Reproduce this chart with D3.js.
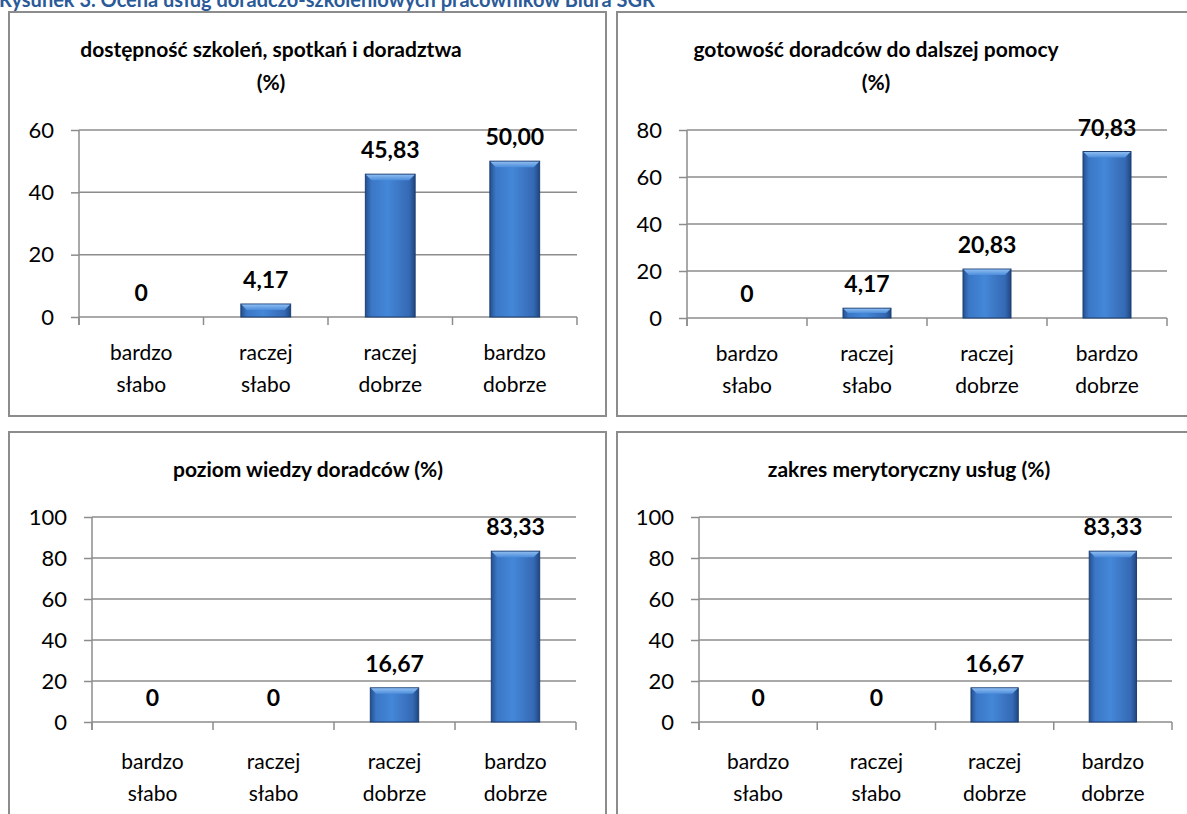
<!DOCTYPE html>
<html>
<head>
<meta charset="utf-8">
<script src="https://cdn.jsdelivr.net/npm/d3@7"></script>
<style>
  body { margin: 0; background: #fff; }
  svg { display: block; font-family: Lato, "Open Sans", sans-serif; }
</style>
</head>
<body>
<div class="chart"></div>
<script>
var svgWidth = 1187;
var svgHeight = 814;

// data
var figureTitle = "Rysunek 3. Ocena usług doradczo-szkoleniowych pracowników Biura SGR";
var categories = ["bardzo słabo", "raczej słabo", "raczej dobrze", "bardzo dobrze"];

var titlesAccess = ["dostępność szkoleń, spotkań i doradztwa", "(%)"];
var valuesAccess = [0, 4.17, 45.83, 50.00];
var ticksAccess = [0, 20, 40, 60];

var titlesReady = ["gotowość doradców do dalszej pomocy", "(%)"];
var valuesReady = [0, 4.17, 20.83, 70.83];
var ticksReady = [0, 20, 40, 60, 80];

var titlesKnowledge = ["poziom wiedzy doradców (%)"];
var valuesKnowledge = [0, 0, 16.67, 83.33];
var ticksKnowledge = [0, 20, 40, 60, 80, 100];

var titlesScope = ["zakres merytoryczny usług (%)"];
var valuesScope = [0, 0, 16.67, 83.33];
var ticksScope = [0, 20, 40, 60, 80, 100];

// panel layout (pixels)
var panels = [
  { titles: titlesAccess, values: valuesAccess, ticks: ticksAccess,
    box: [9, 12, 597, 404], plot: [79, 130, 577, 317], titleX: 271, titleY: 57, labelY: 43 },
  { titles: titlesReady, values: valuesReady, ticks: ticksReady,
    box: [617, 12, 600, 404], plot: [687, 130, 1167, 318], titleX: 876, titleY: 57, labelY: 43 },
  { titles: titlesKnowledge, values: valuesKnowledge, ticks: ticksKnowledge,
    box: [9, 432, 597, 420], plot: [92, 517, 576, 722], titleX: 308, titleY: 477, labelY: 47 },
  { titles: titlesScope, values: valuesScope, ticks: ticksScope,
    box: [617, 432, 600, 420], plot: [699, 517, 1172, 722], titleX: 909, titleY: 477, labelY: 47 }
];

var svg = d3.select(".chart")
  .append("svg")
  .attr("width", svgWidth)
  .attr("height", svgHeight);

// bar shading
var defs = svg.append("defs");
var grad = defs.append("linearGradient").attr("id", "barBody")
  .attr("x1", "0%").attr("x2", "100%").attr("y1", "0%").attr("y2", "0%");
grad.append("stop").attr("offset", "0%").attr("stop-color", "#24508f");
grad.append("stop").attr("offset", "12%").attr("stop-color", "#3b77c6");
grad.append("stop").attr("offset", "45%").attr("stop-color", "#4487d8");
grad.append("stop").attr("offset", "88%").attr("stop-color", "#3569b4");
grad.append("stop").attr("offset", "100%").attr("stop-color", "#1f4680");

var gradTop = defs.append("linearGradient").attr("id", "barTop")
  .attr("x1", "0%").attr("x2", "0%").attr("y1", "0%").attr("y2", "100%");
gradTop.append("stop").attr("offset", "0%").attr("stop-color", "#8dbcf0");
gradTop.append("stop").attr("offset", "100%").attr("stop-color", "#4c8ddb");

// figure caption, cut off by the top edge as in the source
svg.append("text")
  .attr("x", -1)
  .attr("y", 7)
  .attr("fill", "#2b5a98")
  .style("font-size", "20px")
  .style("font-weight", "bold")
  .text(figureTitle);

panels.forEach(function(p) {
  var g = svg.append("g");

  g.append("rect")
    .attr("x", p.box[0])
    .attr("y", p.box[1])
    .attr("width", p.box[2])
    .attr("height", p.box[3])
    .attr("fill", "#fff")
    .attr("stroke", "#8c8c8c")
    .attr("stroke-width", 2);

  // title
  p.titles.forEach(function(t, i) {
    g.append("text")
      .attr("x", p.titleX)
      .attr("y", p.titleY + i * 33)
      .attr("text-anchor", "middle")
      .style("font-size", "21px")
      .style("font-weight", "bold")
      .text(t);
  });

  var left = p.plot[0], top = p.plot[1], right = p.plot[2], bottom = p.plot[3];

  var x = d3.scaleBand()
    .domain(categories)
    .range([left, right])
    .paddingInner(0.6)
    .paddingOuter(0.3);

  var y = d3.scaleLinear()
    .domain([0, d3.max(p.ticks)])
    .range([bottom, top]);

  // gridlines
  g.append("g")
    .selectAll("line")
    .data(p.ticks)
    .enter().append("line")
      .attr("x1", left)
      .attr("x2", right)
      .attr("y1", function(d) { return y(d); })
      .attr("y2", function(d) { return y(d); })
      .attr("stroke", "#8c8c8c")
      .attr("stroke-width", 1.5);

  // y axis
  var leftAxis = d3.axisLeft(y)
    .tickValues(p.ticks)
    .tickSize(8)
    .tickPadding(17)
    .tickFormat(d3.format("d"));

  var yAxis = g.append("g")
    .attr("transform", "translate(" + left + ",0)")
    .call(leftAxis);
  yAxis.select(".domain").remove();
  yAxis.selectAll(".tick line").attr("stroke", "#8c8c8c").attr("stroke-width", 1.5);
  yAxis.selectAll(".tick text")
    .attr("fill", "#000")
    .style("font-size", "22px")
    .style("font-family", "Lato, sans-serif");

  g.append("line")
    .attr("x1", left).attr("x2", left)
    .attr("y1", top).attr("y2", bottom + 8)
    .attr("stroke", "#8c8c8c")
    .attr("stroke-width", 1.5);

  // category boundary ticks
  var step = x.step();
  var bounds = d3.range(categories.length + 1).map(function(i) { return left + i * step; });
  g.append("g")
    .selectAll("line")
    .data(bounds)
    .enter().append("line")
      .attr("x1", function(d) { return d; })
      .attr("x2", function(d) { return d; })
      .attr("y1", bottom)
      .attr("y2", bottom + 8)
      .attr("stroke", "#8c8c8c")
      .attr("stroke-width", 1.5);

  // category labels on two lines
  var labels = g.append("g")
    .selectAll("text")
    .data(categories)
    .enter().append("text")
      .attr("text-anchor", "middle")
      .style("font-size", "21px");
  labels.each(function(c) {
    var words = c.split(" ");
    var t = d3.select(this);
    words.forEach(function(w, i) {
      t.append("tspan")
        .attr("x", x(c) + x.bandwidth() / 2)
        .attr("y", bottom + p.labelY + i * 32)
        .text(w);
    });
  });

  // bars
  var bw = x.bandwidth();
  var bars = g.append("g")
    .selectAll("g")
    .data(p.values.map(function(v, i) { return { cat: categories[i], v: v }; }))
    .enter().append("g")
      .filter(function(d) { return d.v > 0; });

  bars.append("rect")
    .attr("x", function(d) { return x(d.cat); })
    .attr("y", function(d) { return y(d.v); })
    .attr("width", bw)
    .attr("height", function(d) { return bottom - y(d.v); })
    .attr("fill", "url(#barBody)")
    .attr("stroke", "#1d3f72")
    .attr("stroke-width", 1);

  // bevelled top
  bars.append("path")
    .attr("d", function(d) {
      var x0 = x(d.cat), y0 = y(d.v);
      var h = Math.min(6, (bottom - y0) / 2);
      return "M" + (x0 + 0.5) + "," + (y0 + 0.5) +
        "L" + (x0 + bw - 0.5) + "," + (y0 + 0.5) +
        "L" + (x0 + bw - h) + "," + (y0 + h) +
        "L" + (x0 + h) + "," + (y0 + h) + "Z";
    })
    .attr("fill", "url(#barTop)");

  // value labels
  g.append("g")
    .selectAll("text")
    .data(p.values.map(function(v, i) { return { cat: categories[i], v: v }; }))
    .enter().append("text")
      .attr("x", function(d) { return x(d.cat) + bw / 2; })
      .attr("y", function(d) { return y(d.v) - 16; })
      .attr("text-anchor", "middle")
      .style("font-size", "23px")
      .style("font-weight", "bold")
      .text(function(d) { return d.v === 0 ? "0" : d.v.toFixed(2).replace(".", ","); });
});
</script>
</body>
</html>
